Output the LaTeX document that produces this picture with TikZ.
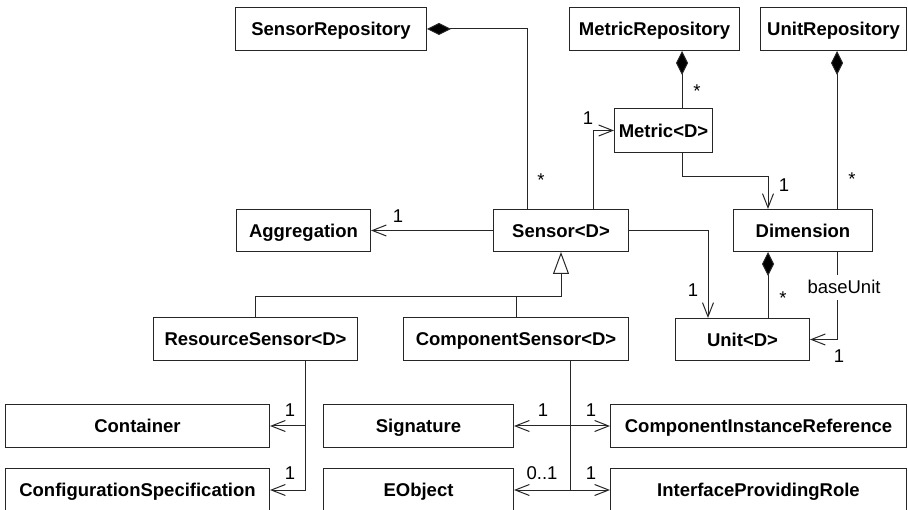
\documentclass[tikz,border=0pt]{standalone}
\usepackage{fontspec}
\setmainfont{Liberation Sans}
\usetikzlibrary{arrows.meta}
\begin{document}
\begin{tikzpicture}[x=1pt,y=-1pt,
  every node/.style={font=\fontsize{18.5}{22}\selectfont},
  cls/.style={draw=black!85, line width=1pt, fill=white, inner sep=0pt,
    anchor=north west, font=\fontsize{18.5}{22}\selectfont\bfseries,
    text height=13.5pt, text depth=0pt, minimum height=43pt},
  lbl/.style={inner sep=0pt, anchor=base},
  link/.style={draw=black!85, line width=1pt},
  nav/.style={link, -{Straight Barb[length=14pt,width=11pt]}},
  nav2/.style={link, {Straight Barb[length=14pt,width=11pt]}-{Straight Barb[length=14pt,width=11pt]}},
  comp/.style={link, {Diamond[length=24pt,width=12pt,fill=black]}-},
  gen/.style={link, -{Triangle[open,length=22pt,width=16pt]}}
]
\clip (0,0) rectangle (908,510);

% classes
\node[cls, minimum width=191pt] (srepo) at (235,7) {SensorRepository};
\node[cls, minimum width=170pt] (mrepo) at (569,7) {MetricRepository};
\node[cls, minimum width=146pt] (urepo) at (760,7) {UnitRepository};
\node[cls, minimum width=98pt, minimum height=44pt] (metric) at (614,108) {Metric<D>};
\node[cls, minimum width=134pt, minimum height=42pt] (aggr) at (236,209) {Aggregation};
\node[cls, minimum width=135pt, minimum height=42pt] (sensor) at (493,209) {Sensor<D>};
\node[cls, minimum width=139pt, minimum height=42pt] (dim) at (733,209) {Dimension};
\node[cls, minimum width=204pt] (rsensor) at (153,317) {ResourceSensor<D>};
\node[cls, minimum width=225pt] (csensor) at (403,317) {ComponentSensor<D>};
\node[cls, minimum width=134pt, minimum height=42pt] (unit) at (675,318) {Unit<D>};
\node[cls, minimum width=264pt] (container) at (5,404) {Container};
\node[cls, minimum width=190pt] (sig) at (323,404) {Signature};
\node[cls, minimum width=296pt] (cir) at (610,404) {ComponentInstanceReference};
\node[cls, minimum width=264pt] (config) at (5,468) {ConfigurationSpecification};
\node[cls, minimum width=190pt] (eobj) at (323,468) {EObject};
\node[cls, minimum width=296pt] (ipr) at (610,468) {InterfaceProvidingRole};

% bend points and line columns
\coordinate (sv) at (527,0);
\coordinate (mx) at (682,0);
\coordinate (ux) at (837,0);
\coordinate (smx) at (593,0);
\coordinate (md1) at (682,177);
\coordinate (md2) at (768,177);
\coordinate (su) at (708,0);
\coordinate (du) at (768,0);
\coordinate (bu) at (837,0);
\coordinate (gy) at (0,297);
\coordinate (rx) at (305,0);
\coordinate (cx) at (570,0);

% compositions
\draw[comp] (srepo.east) -| (sensor.north -| sv);
\draw[comp] (mrepo.south -| mx) -- (metric.north -| mx);
\draw[comp] (urepo.south -| ux) -- (dim.north -| ux);
\draw[comp] (dim.south -| du) -- (unit.north -| du);

% associations
\draw[nav] (sensor.north -| smx) |- (metric.west);
\draw[nav] (metric.south -| md1) -- (md1) -- (md2) -- (dim.north -| md2);
\draw[nav] (sensor.west) -- (aggr.east);
\draw[nav] (sensor.east) -| (unit.north -| su);
\draw[nav] (dim.south -| bu) |- (unit.east);
\draw[nav] (rsensor.south -| rx) |- (config.east);
\draw[nav] (container.east -| rx) -- (container.east);
\draw[link] (csensor.south -| cx) -- (eobj.east -| cx);
\draw[nav2] (sig.east) -- (cir.west);
\draw[nav2] (eobj.east) -- (ipr.west);

% generalization
\draw[link] (rsensor.north) |- (sensor.south |- gy);
\draw[link] (csensor.north) -- (csensor.north |- gy);
\draw[gen] (sensor.south |- gy) -- (sensor.south);

% multiplicities and role names
\node[lbl] (m1) at (541,187) {*};
\node[lbl] (m2) at (697,98) {*};
\node[lbl] (m3) at (588,125) {1};
\node[lbl] (m4) at (784,192) {1};
\node[lbl] (m5) at (852,186) {*};
\node[lbl] (m6) at (398,223) {1};
\node[lbl] (m7) at (693,297) {1};
\node[lbl] (m8) at (783,305) {*};
\node[lbl, fill=white, inner xsep=1pt, inner ysep=5.5pt] (role) at (844,294) {baseUnit};
\node[lbl] (m9) at (839,363) {1};
\node[lbl] (m10) at (290,417) {1};
\node[lbl] (m11) at (290,479) {1};
\node[lbl] (m12) at (543,417) {1};
\node[lbl] (m13) at (591,417) {1};
\node[lbl] (m14) at (542,479) {0..1};
\node[lbl] (m15) at (591,479) {1};
\end{tikzpicture}
\end{document}
